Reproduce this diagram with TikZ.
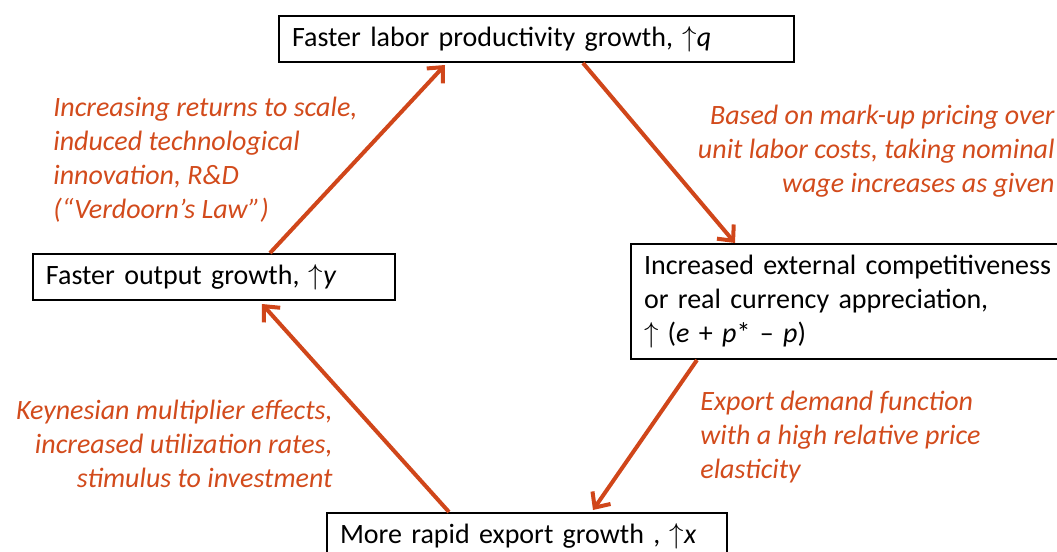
\documentclass[tikz,border=0pt]{standalone}
\usepackage{fontspec}
\setmainfont{Carlito}
\usetikzlibrary{arrows.meta}
\definecolor{arr}{HTML}{D0461A}
\definecolor{lab}{HTML}{D24B1C}
\begin{document}
\begin{tikzpicture}[x=0.5pt,y=-0.5pt,
  box/.style={draw=black,line width=1pt,rectangle,anchor=north west,inner xsep=6.5pt,inner ysep=0pt,align=left,font=\fontsize{14}{17}\selectfont},
  lbl/.style={text=lab,font=\fontsize{14}{17}\selectfont\itshape,inner sep=0pt},
  link/.style={draw=arr,line width=2pt,-{Straight Barb[length=6pt,width=11pt]}}]
\useasboundingbox (0,0) rectangle (1057,552);
\node[box,text width=244.5pt,minimum height=23pt] (top) at (278,15) {Faster labor productivity growth, $\uparrow$\textit{q}};
\node[box,text width=168pt,minimum height=23pt] (left) at (32,253) {Faster output growth, $\uparrow$\textit{y}};
\node[box,text width=207pt,minimum height=57.5pt] (right) at (630,243) {Increased external competitiveness\\or real currency appreciation,\\$\uparrow$ (\textit{e} + \textit{p}* – \textit{p})};
\node[box,text width=187pt,minimum height=23pt] (bottom) at (326,512) {More rapid export growth , $\uparrow$\textit{x}};
\node[lbl,anchor=base west,align=left] (l1) at (53,218) {Increasing returns to scale,\\induced technological\\innovation, R\&D\\(“Verdoorn’s Law”)};
\node[lbl,anchor=base east,align=right] (l2) at (1055,192) {Based on mark-up pricing over\\unit labor costs, taking nominal\\wage increases as given};
\node[lbl,anchor=base west,align=left] (l3) at (700,478) {Export demand function\\with a high relative price\\elasticity};
\node[lbl,anchor=base east,align=right] (l4) at (333,487) {Keynesian multiplier effects,\\increased utilization rates,\\stimulus to investment};
\draw[link] ([xshift=119pt]left.north west) -- ([xshift=83.5pt,yshift=-1pt]top.south west);
\draw[link] ([xshift=152.5pt]top.south west) -- ([xshift=52.5pt]right.north west);
\draw[link] ([xshift=33.5pt]right.south west) -- ([xshift=133.5pt,yshift=1pt]bottom.north west);
\draw[link] ([xshift=61.5pt]bottom.north west) -- ([xshift=115pt,yshift=-1.5pt]left.south west);
\end{tikzpicture}
\end{document}
